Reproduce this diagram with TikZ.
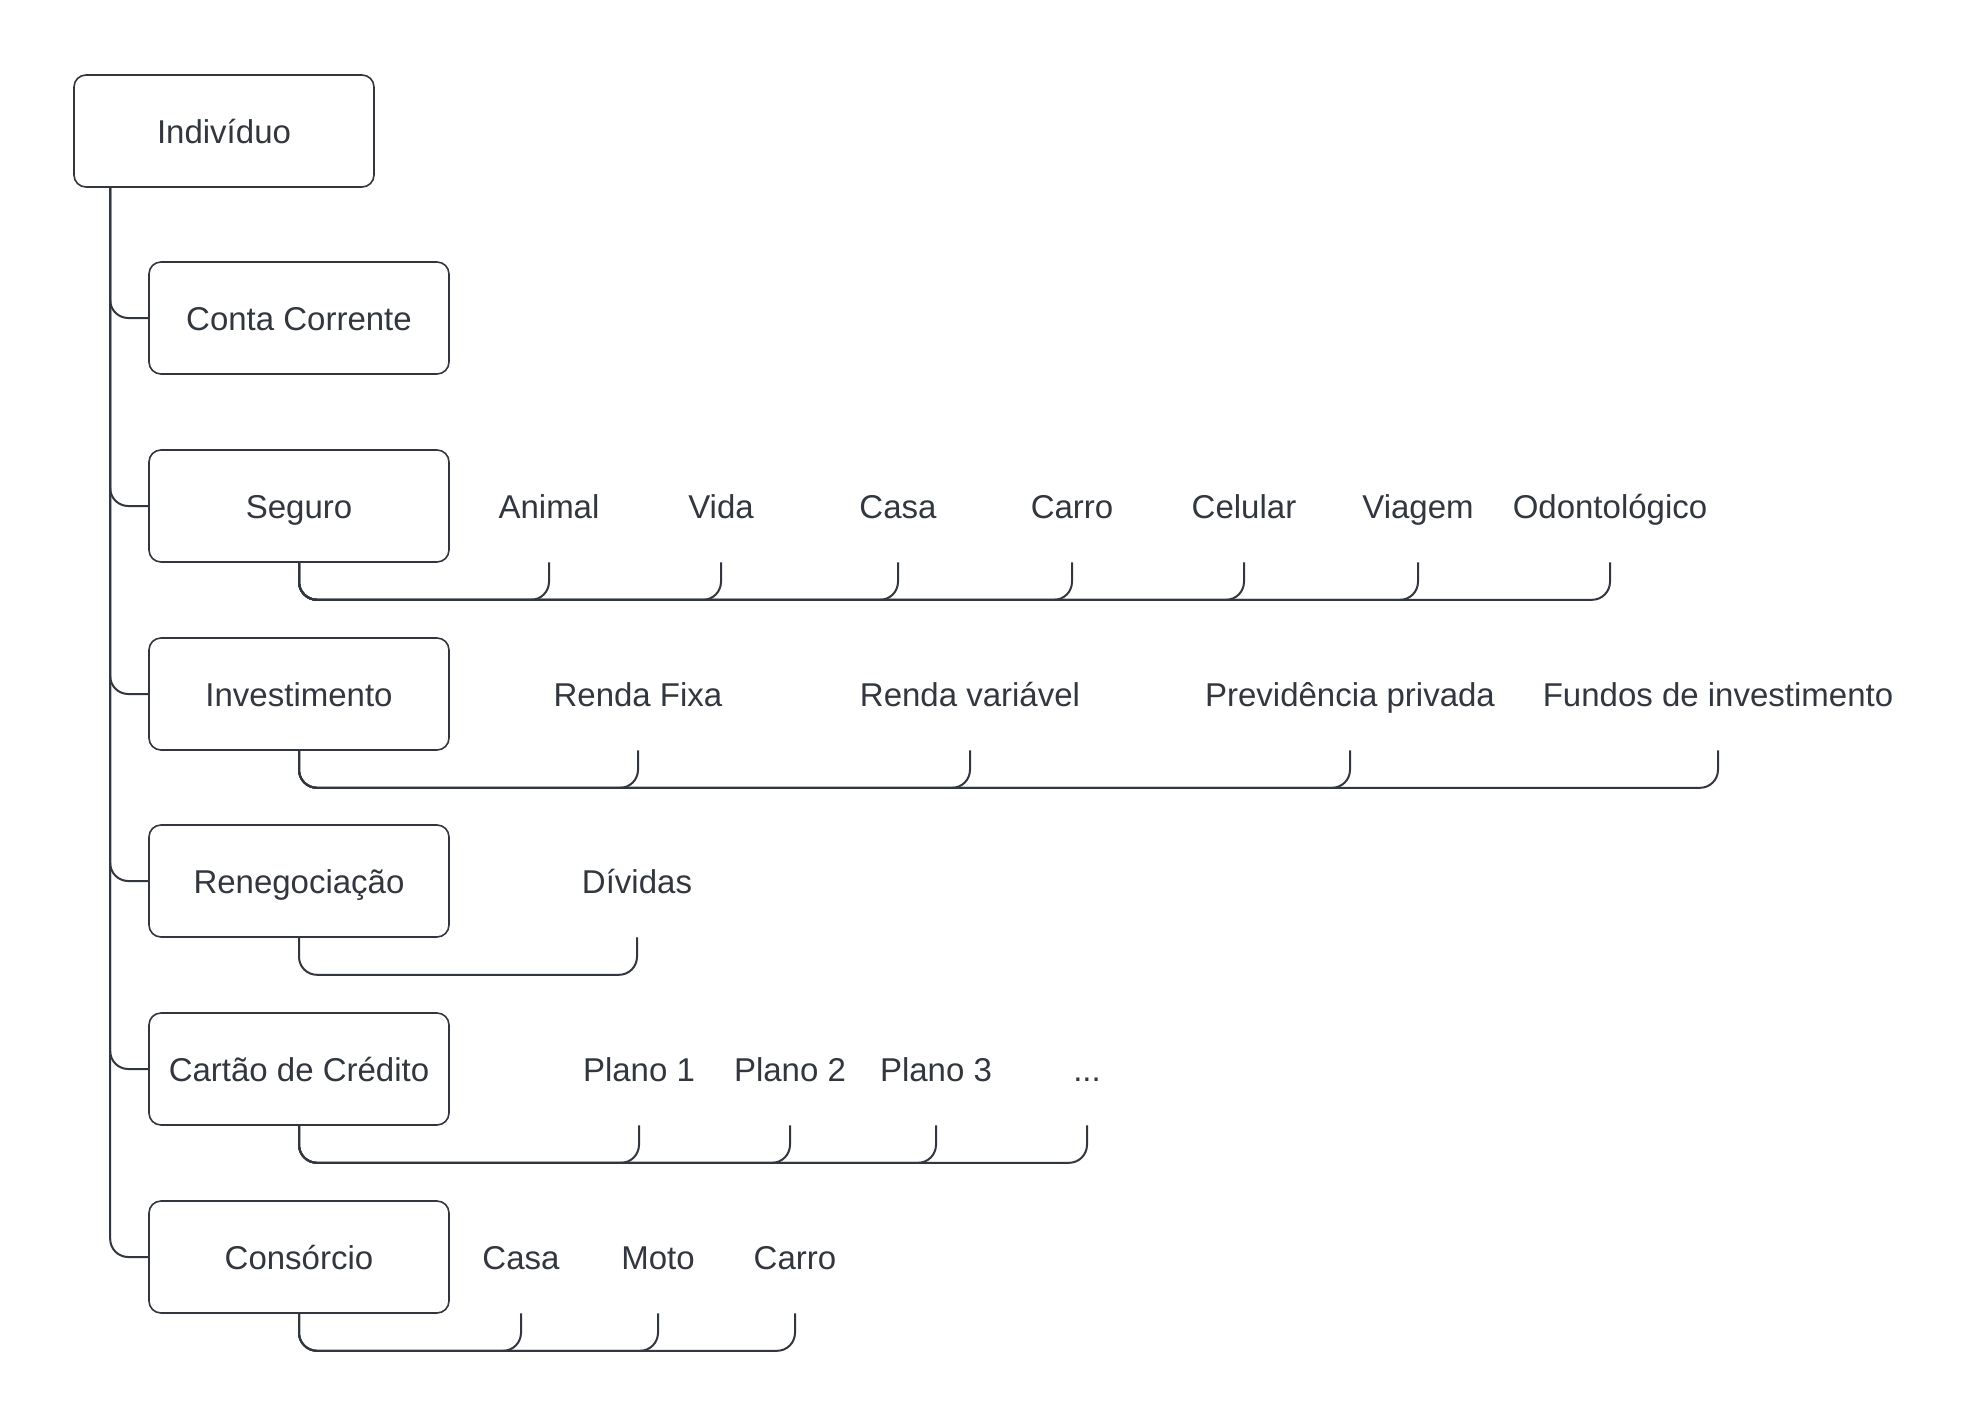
\documentclass[tikz,border=0pt]{standalone}
\usepackage{fontspec}
\setmainfont{Liberation Sans}
\definecolor{ink}{RGB}{50,54,62}
\newcommand{\etc}{...}
\tikzset{
    txt/.style={text=ink, font=\fontsize{16.5}{19}\selectfont,
        text height=14pt, text depth=1.7pt},
    box/.style={txt, draw=ink, line width=0.8pt, rounded corners=6pt,
        minimum width=150pt, minimum height=56pt},
    item/.style={txt, minimum height=56pt, inner sep=0pt},
    link/.style={draw=ink, line width=1pt, rounded corners=9pt},
}

\begin{document}
\begin{tikzpicture}[x=0.5pt, y=-0.5pt]
        \useasboundingbox (0,0) rectangle (1988,1425);
        \node[box] (root) at (224,131) {Indivíduo};
        \foreach \name/\lbl/\y in {cc/Conta Corrente/318, seg/Seguro/506,
            inv/Investimento/694, ren/Renegociação/881,
            cart/Cartão de Crédito/1069, cons/Consórcio/1257} {
                \node[box] (\name) at (299,\y) {\lbl};
                \draw[link] ([xshift=18.5pt]root.south west) |- (\name.west);
        }
        % seguro
        \foreach \lbl/\x [count=\i] in {Animal/549, Vida/721, Casa/898, Carro/1072,
            Celular/1244, Viagem/1418, Odontológico/1610} {
                \node[item] (seg-\i) at (\x,506) {\lbl};
                \draw[link] (seg.south) -- ++(0,37) -| (seg-\i.south);
        }
        % investimento
        \foreach \lbl/\x [count=\i] in {Renda Fixa/638, Renda variável/970,
            Previdência privada/1350, Fundos de investimento/1718} {
                \node[item] (inv-\i) at (\x,694) {\lbl};
                \draw[link] (inv.south) -- ++(0,37) -| (inv-\i.south);
        }
        % renegociacao
        \node[item] (ren-1) at (637,881) {Dívidas};
        \draw[link] (ren.south) -- ++(0,37) -| (ren-1.south);
        % cartao
        \foreach \lbl/\x [count=\i] in {Plano 1/639, Plano 2/790, Plano 3/936, \etc/1087} {
                \node[item] (cart-\i) at (\x,1069) {\lbl};
                \draw[link] (cart.south) -- ++(0,37) -| (cart-\i.south);
        }
        % consorcio
        \foreach \lbl/\x [count=\i] in {Casa/521, Moto/658, Carro/795} {
                \node[item] (cons-\i) at (\x,1257) {\lbl};
                \draw[link] (cons.south) -- ++(0,37) -| (cons-\i.south);
        }
    \end{tikzpicture}
\end{document}
